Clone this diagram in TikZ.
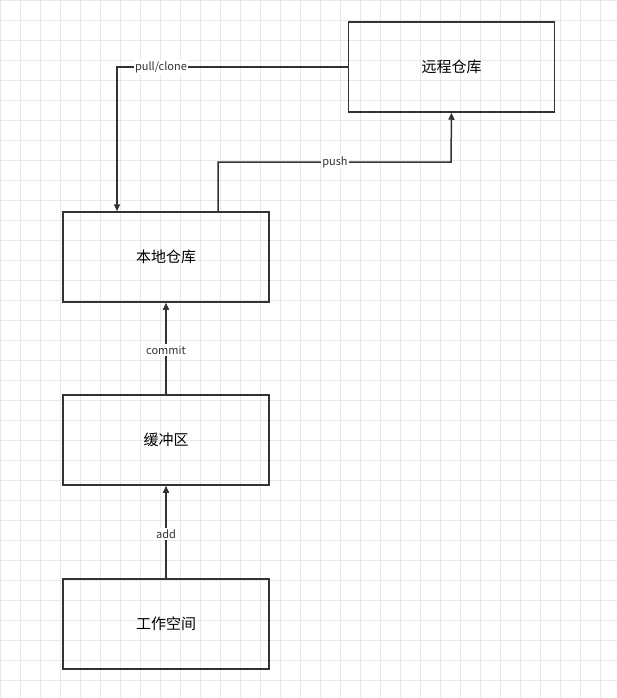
\documentclass[tikz,border=0pt]{standalone}
\usepackage{fontspec}
\setmainfont{Noto Sans CJK SC}
\usetikzlibrary{arrows.meta}
\definecolor{gridc}{RGB}{232,232,232}
\definecolor{linec}{RGB}{51,51,51}

\begin{document}
\begin{tikzpicture}[x=1pt, y=-1pt,
		box/.style={draw=linec, line width=1.5pt, minimum width=206pt, minimum height=90pt, font=\fontsize{15}{18}\selectfont},
		flow/.style={draw=linec, line width=1.5pt, -{Triangle[length=7pt,width=6pt]}},
		lbl/.style={fill=white, inner sep=1.5pt, font=\fontsize{11}{13}\selectfont, text=linec}]
		\useasboundingbox (0,0) rectangle (617,698);
		\draw[gridc, step=20pt] (0,0) grid (617,698);
		
		\node[box] (remote) at (451.5,67) {远程仓库};
		\node[box] (local) at (166,257) {本地仓库};
		\node[box] (stage) at (166,440) {缓冲区};
		\node[box] (work) at (166,624) {工作空间};
		
		\coordinate (c1) at (117,67);
		\coordinate (c2) at (218,162);
		\coordinate (c3) at (451,162);
		
		\draw[flow] (remote.west) -- (c1) -- (c1 |- local.north);
		\node[lbl] at (161,67) {pull/clone};
		\draw[flow] (c2 |- local.north) -- (c2) -- (c3) -- (remote.south);
		\node[lbl] at (335,162) {push};
		\draw[flow] (stage) -- (local);
		\node[lbl] at (166,350) {commit};
		\draw[flow] (work) -- (stage);
		\node[lbl] at (166,534) {add};
		\end{tikzpicture}
\end{document}
